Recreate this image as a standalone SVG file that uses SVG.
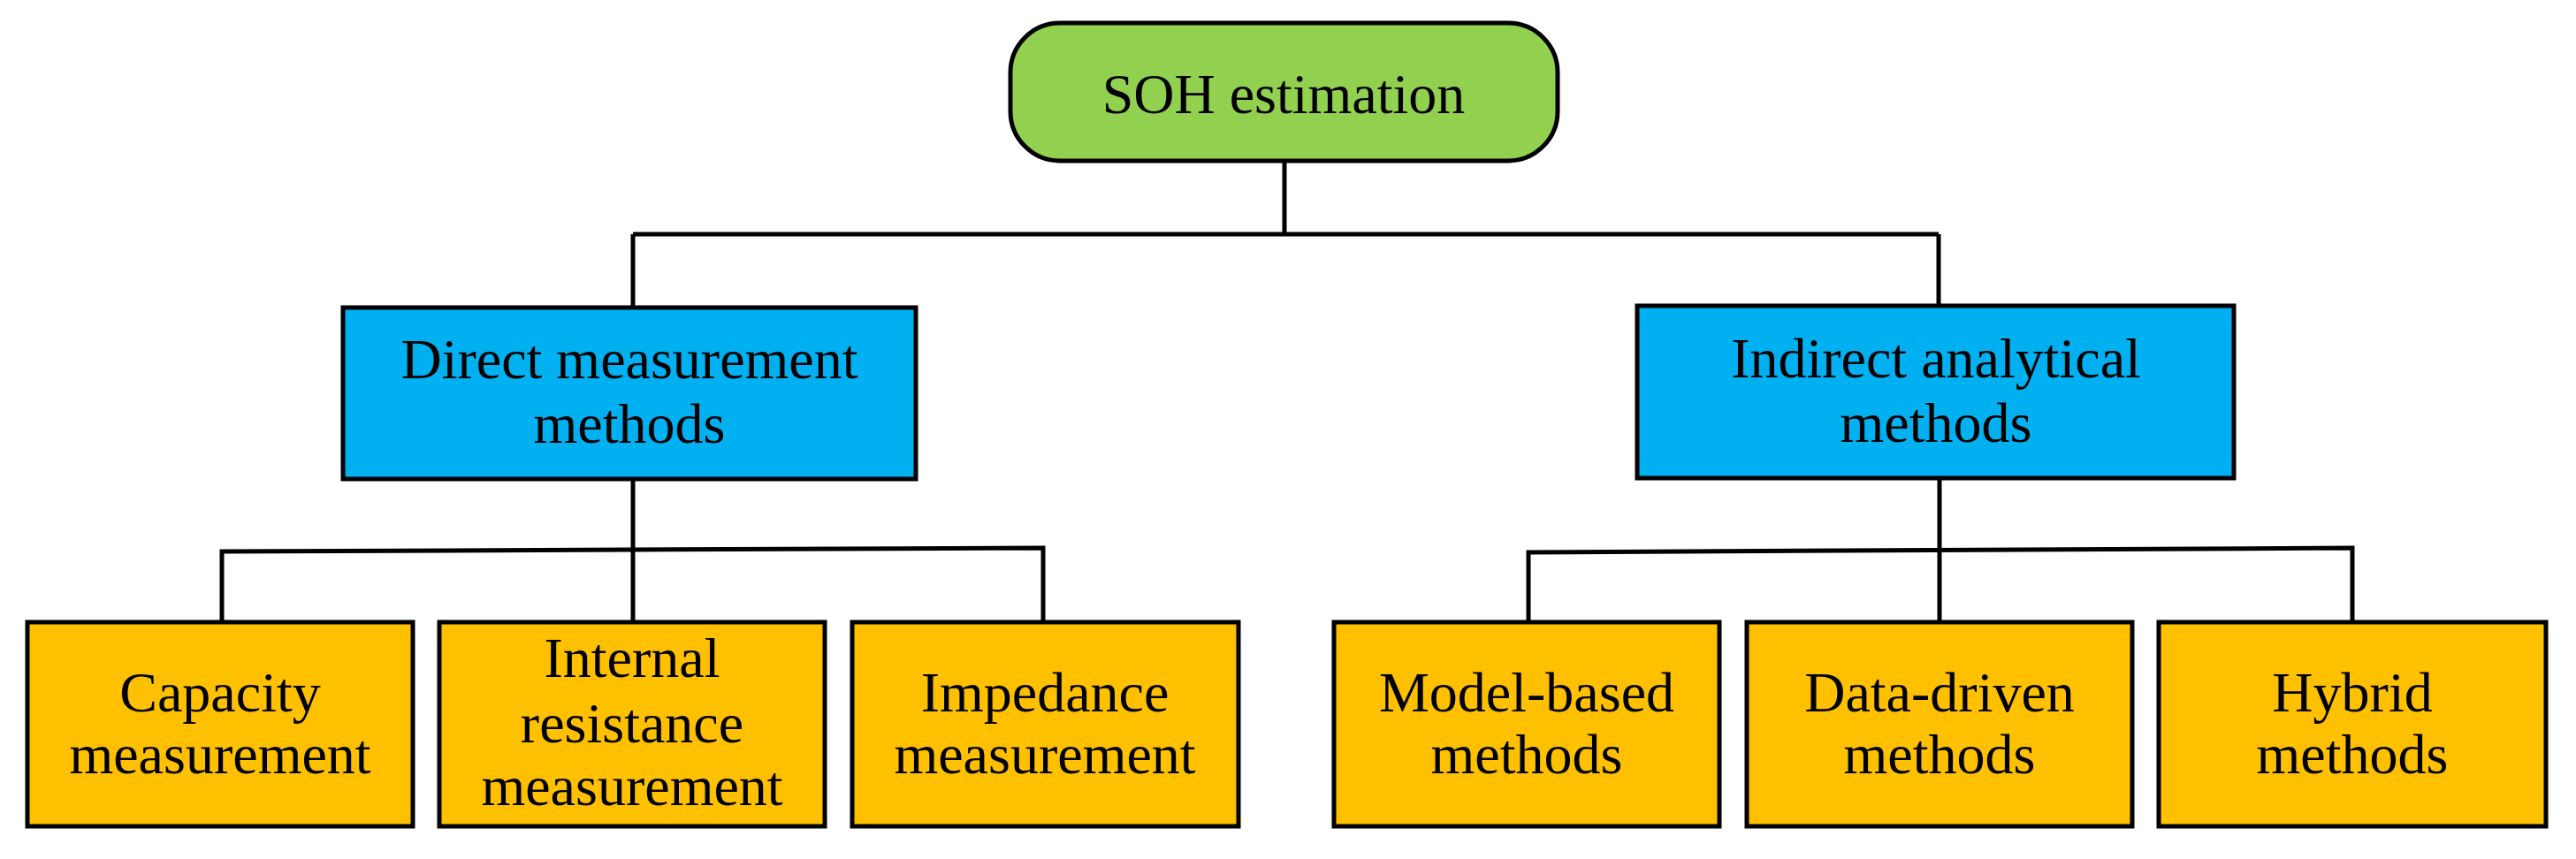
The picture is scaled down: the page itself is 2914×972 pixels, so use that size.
<svg xmlns="http://www.w3.org/2000/svg" width="2914" height="972" viewBox="0 0 2914 972">
<style>
text{font-family:"Liberation Serif","Times New Roman",serif;font-size:64px;fill:#000;text-anchor:middle}
.b{stroke:#000;stroke-width:5}
.g{fill:#92D050}.c{fill:#00B0F0}.o{fill:#FFC000}
.l{fill:none;stroke:#000;stroke-width:5}
</style>
<rect width="2914" height="972" fill="#fff"/>
<g id="connectors" class="l">
<path d="M1453,182V265M716,265H2193M716,265V348M2193,265V346"/>
<path d="M716,542V704M251,704V624L1180,620V704"/>
<path d="M2194,541V704M1729,704V625L2661,620V704"/>
</g>
<g id="soh"><rect class="b g" x="1143" y="26" width="619" height="156" rx="56"/><text x="1452" y="128">SOH estimation</text></g>
<g id="direct"><rect class="b c" x="388" y="348" width="648" height="194"/><text x="712" y="428">Direct measurement</text><text x="712" y="501">methods</text></g>
<g id="indirect"><rect class="b c" x="1852" y="346" width="675" height="195"/><text x="2190" y="427">Indirect analytical</text><text x="2190" y="500">methods</text></g>
<g id="capacity"><rect class="b o" x="31" y="704" width="436" height="231"/><text x="249" y="805">Capacity</text><text x="249" y="875">measurement</text></g>
<g id="internal"><rect class="b o" x="497" y="704" width="436" height="231"/><text x="715" y="766">Internal</text><text x="715" y="840">resistance</text><text x="715" y="911">measurement</text></g>
<g id="impedance"><rect class="b o" x="964" y="704" width="437" height="231"/><text x="1182" y="805">Impedance</text><text x="1182" y="875">measurement</text></g>
<g id="model"><rect class="b o" x="1509" y="704" width="436" height="231"/><text x="1727" y="805">Model-based</text><text x="1727" y="875">methods</text></g>
<g id="data"><rect class="b o" x="1976" y="704" width="436" height="231"/><text x="2194" y="805">Data-driven</text><text x="2194" y="875">methods</text></g>
<g id="hybrid"><rect class="b o" x="2442" y="704" width="438" height="231"/><text x="2661" y="805">Hybrid</text><text x="2661" y="875">methods</text></g>
</svg>
